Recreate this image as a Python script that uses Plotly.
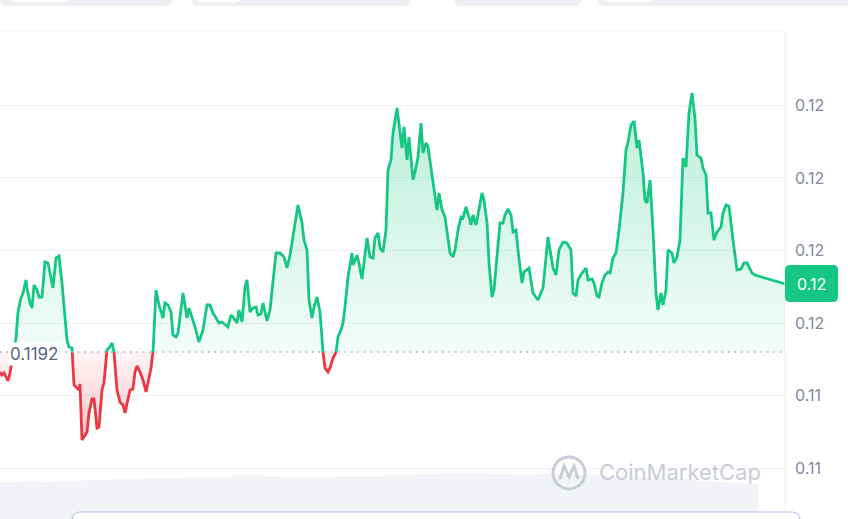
import plotly.graph_objects as go

# ---------------- data ----------------
t = [0, 2, 4, 6, 8, 10, 16, 18, 21, 23, 26, 27, 30, 32, 34, 37, 39, 42, 45, 48,
     51, 53, 56, 59, 62, 65, 67, 69, 72, 74, 76, 79, 80, 82, 84, 87, 89, 92, 94, 97,
     99, 102, 104, 107, 109, 112, 114, 117, 120, 123, 125, 127, 130, 133, 135, 137, 140, 143, 146, 148,
     151, 153, 156, 159, 163, 165, 168, 171, 173, 176, 178, 183, 187, 189, 193, 195, 199, 203, 207, 210,
     213, 217, 219, 222, 225, 228, 231, 233, 237, 239, 242, 245, 247, 250, 253, 256, 258, 261, 263, 267,
     270, 273, 276, 280, 284, 287, 290, 294, 298, 302, 304, 307, 309, 312, 314, 317, 320, 323, 325, 328,
     330, 333, 336, 338, 341, 343, 345, 348, 352, 353, 357, 359, 362, 365, 367, 370, 373, 375, 378, 380,
     383, 386, 388, 391, 393, 397, 399, 402, 404, 407, 409, 413, 415, 418, 421, 423, 426, 428, 432, 434,
     437, 439, 442, 445, 447, 450, 453, 455, 458, 461, 463, 466, 469, 471, 473, 476, 478, 482, 484, 487,
     489, 492, 494, 497, 500, 503, 505, 508, 511, 513, 516, 518, 522, 524, 529, 533, 538, 543, 548, 553,
     556, 559, 563, 567, 571, 573, 576, 578, 582, 586, 588, 592, 594, 597, 599, 602, 605, 608, 610, 613,
     616, 619, 623, 626, 628, 631, 634, 637, 639, 643, 645, 647, 650, 653, 656, 658, 661, 663, 666, 668,
     672, 674, 677, 680, 683, 686, 689, 692, 695, 697, 701, 703, 706, 708, 711, 714, 717, 721, 723, 726,
     729, 733, 737, 741, 744, 747, 752, 755, 785]

price = [0.118648, 0.118566, 0.118621, 0.118483, 0.118400, 0.118621, 0.119586, 0.120303, 0.120690, 0.120828,
         0.121186, 0.120966, 0.120552, 0.120414, 0.121048, 0.120910, 0.120717, 0.120717, 0.121683, 0.121655,
         0.121269, 0.120966, 0.121793, 0.121848, 0.121103, 0.120083, 0.119531, 0.119338, 0.119310, 0.118290,
         0.118234, 0.118152, 0.118317, 0.116772, 0.116855, 0.116993, 0.117517, 0.117903, 0.117903, 0.117103,
         0.117131, 0.118152, 0.118345, 0.119255, 0.119310, 0.119448, 0.119200, 0.118152, 0.117821, 0.117738,
         0.117517, 0.117738, 0.118152, 0.118179, 0.118648, 0.118814, 0.118648, 0.118428, 0.118097, 0.118345,
         0.118759, 0.119200, 0.120910, 0.120497, 0.120138, 0.120552, 0.120497, 0.120303, 0.119669, 0.119614,
         0.119724, 0.120828, 0.120138, 0.120414, 0.120083, 0.119890, 0.119476, 0.119807, 0.120497, 0.120497,
         0.120276, 0.120083, 0.120000, 0.120028, 0.119945, 0.119890, 0.120221, 0.120166, 0.120000, 0.120359,
         0.120028, 0.120993, 0.121186, 0.120303, 0.120414, 0.120441, 0.120221, 0.120248, 0.120552, 0.120055,
         0.120359, 0.121186, 0.121931, 0.121931, 0.121821, 0.121517, 0.121876, 0.122566, 0.123255, 0.122759,
         0.122290, 0.122014, 0.120634, 0.120138, 0.120441, 0.120717, 0.120303, 0.119200, 0.118759, 0.118648,
         0.118759, 0.119034, 0.119172, 0.119614, 0.119807, 0.120000, 0.120441, 0.121269, 0.121931, 0.121600,
         0.121876, 0.121655, 0.121214, 0.121821, 0.122345, 0.121821, 0.121793, 0.122345, 0.122483, 0.122069,
         0.121959, 0.122566, 0.124221, 0.124497, 0.125241, 0.125931, 0.125545, 0.124828, 0.125407, 0.124497,
         0.125131, 0.123945, 0.124166, 0.124579, 0.125517, 0.124690, 0.124966, 0.124855, 0.124083, 0.123669,
         0.123117, 0.123586, 0.123117, 0.122924, 0.122483, 0.121931, 0.121821, 0.122014, 0.122566, 0.122924,
         0.122897, 0.123200, 0.122924, 0.122703, 0.122979, 0.122703, 0.122979, 0.123586, 0.123393, 0.122759,
         0.121655, 0.120717, 0.120910, 0.121821, 0.122759, 0.122759, 0.122979, 0.123145, 0.122979, 0.122510,
         0.122566, 0.122014, 0.121103, 0.121407, 0.121517, 0.120828, 0.120634, 0.120966, 0.122372, 0.121517,
         0.121324, 0.122014, 0.122234, 0.122207, 0.122014, 0.120828, 0.120745, 0.121186, 0.121379, 0.121517,
         0.121186, 0.121214, 0.121103, 0.120745, 0.120717, 0.121103, 0.121324, 0.121407, 0.121379, 0.121793,
         0.121931, 0.122566, 0.123586, 0.124772, 0.124993, 0.125462, 0.125572, 0.124828, 0.125048, 0.124138,
         0.123393, 0.123310, 0.123945, 0.122566, 0.120828, 0.120359, 0.120828, 0.120497, 0.120910, 0.122014,
         0.121931, 0.121655, 0.121821, 0.122290, 0.124552, 0.124303, 0.125793, 0.126345, 0.125655, 0.124634,
         0.124552, 0.124276, 0.124083, 0.123034, 0.123034, 0.122290, 0.122510, 0.122648, 0.123034, 0.123255,
         0.123228, 0.122290, 0.121462, 0.121490, 0.121655, 0.121655, 0.121379, 0.121324, 0.121076]

base_price = 0.1192
base_label = "0.1192"
last_label = "0.12"

tick_vals = [0.116, 0.118, 0.120, 0.122, 0.124, 0.126]
tick_text = ["0.11", "0.11", "0.12", "0.12", "0.12", "0.12"]

vol_t = list(range(0, 751, 15))
volume = [9.25, 9.25, 9.5, 9.25, 9.5, 9.5,
          9.75, 9.75, 10, 10, 10.25,
          10.25, 10.25, 10.5, 10.5, 10.5,
          11, 11, 10.75, 10.5,
          10.5, 10.5, 10.5,
          10.75, 10.75, 10.75, 11, 11,
          11.25, 11.25, 11.5, 11.5, 11.5, 11.25, 11.25,
          11, 11.25, 11.25, 11, 11, 11, 10.75, 10.75,
          10.5, 10.25, 10, 10,
          9.5, 9.25, 9, 8.75]

GREEN = "#16c784"
RED = "#ea3943"
FONT = "Inter"

# ---------------- geometry helpers (pixel -> paper) ----------------
W, H = 848, 519
ML, MR, MT, MB = 0, 63, 31, 0
PW, PH = W - ML - MR, H - MT - MB


def px(x):
    return (x - ML) / PW


def py(y):
    return (H - MB - y) / PH


def rrect(x0, y0, x1, y1, r):
    rx, ry = r / PW, r / PH
    a, b, c, d = px(x0), py(y1), px(x1), py(y0)  # left, bottom, right, top
    return (f"M {a+rx},{d} L {c-rx},{d} Q {c},{d} {c},{d-ry} L {c},{b+ry} "
            f"Q {c},{b} {c-rx},{b} L {a+rx},{b} Q {a},{b} {a},{b+ry} L {a},{d-ry} "
            f"Q {a},{d} {a+rx},{d} Z")


# ---------------- split series at the baseline ----------------
aug_t, aug_p = [], []
for i in range(len(t)):
    aug_t.append(t[i])
    aug_p.append(price[i])
    if i < len(t) - 1:
        a, b = price[i] - base_price, price[i + 1] - base_price
        if a * b < 0:
            frac = a / (a - b)
            aug_t.append(t[i] + frac * (t[i + 1] - t[i]))
            aug_p.append(base_price)

up_fill = [max(p, base_price) for p in aug_p]
dn_fill = [min(p, base_price) for p in aug_p]
up_line = [p if p >= base_price else None for p in aug_p]
dn_line = [p if p <= base_price else None for p in aug_p]

fig = go.Figure()

fig.add_trace(go.Bar(x=vol_t, y=volume, yaxis="y2", width=15,
                     marker=dict(color="rgba(214,219,232,0.30)", line=dict(width=0)),
                     hoverinfo="skip"))

# green area
fig.add_trace(go.Scatter(x=[aug_t[0], aug_t[-1]], y=[base_price, base_price], mode="lines",
                         line=dict(width=0, color="rgba(0,0,0,0)"), hoverinfo="skip"))
fig.add_trace(go.Scatter(x=aug_t, y=up_fill, mode="lines", fill="tonexty",
                         line=dict(width=0, color="rgba(0,0,0,0)"),
                         fillgradient=dict(type="vertical",
                                           colorscale=[[0, "rgba(22,199,132,0.05)"],
                                                       [1, "rgba(22,199,132,0.30)"]],
                                           start=base_price, stop=max(price)),
                         hoverinfo="skip"))
# red area
fig.add_trace(go.Scatter(x=[aug_t[0], aug_t[-1]], y=[base_price, base_price], mode="lines",
                         line=dict(width=0, color="rgba(0,0,0,0)"), hoverinfo="skip"))
fig.add_trace(go.Scatter(x=aug_t, y=dn_fill, mode="lines", fill="tonexty",
                         line=dict(width=0, color="rgba(0,0,0,0)"),
                         fillgradient=dict(type="vertical",
                                           colorscale=[[0, "rgba(234,57,67,0.30)"],
                                                       [1, "rgba(234,57,67,0.05)"]],
                                           start=min(price), stop=base_price),
                         hoverinfo="skip"))

fig.add_trace(go.Scatter(x=aug_t, y=up_line, mode="lines",
                         line=dict(color=GREEN, width=2.8), hoverinfo="skip"))
fig.add_trace(go.Scatter(x=aug_t, y=dn_line, mode="lines",
                         line=dict(color=RED, width=2.8), hoverinfo="skip"))

shapes = []
# top tab strip
for (x0, x1) in [(0, 172), (192, 411), (454, 581), (597, 860)]:
    shapes.append(dict(type="path", xref="paper", yref="paper", path=rrect(x0, -8, x1, 6, 6),
                       fillcolor="#eef0f3", line=dict(width=0), layer="above"))
for (x0, x1) in [(10, 70), (197, 240), (605, 654)]:
    shapes.append(dict(type="path", xref="paper", yref="paper", path=rrect(x0, -8, x1, 2, 4),
                       fillcolor="#ffffff", line=dict(width=0), layer="above"))
# frame lines
shapes.append(dict(type="line", xref="paper", yref="paper", x0=px(0), x1=px(785), y0=py(31), y1=py(31),
                   line=dict(color="#eceef2", width=1)))
shapes.append(dict(type="line", xref="paper", yref="paper", x0=px(785), x1=px(785), y0=py(31), y1=py(519),
                   line=dict(color="#eceef2", width=1)))
# baseline
shapes.append(dict(type="line", xref="paper", yref="y", x0=0, x1=px(783), y0=base_price, y1=base_price,
                   line=dict(color="#a6afbf", width=1.5, dash="1.5px,5px")))
# price badge
shapes.append(dict(type="path", xref="paper", yref="paper", path=rrect(785, 265, 838, 302, 5),
                   fillcolor=GREEN, line=dict(width=0), layer="above"))
# watermark logo
wm = "#c9cdd8"
shapes.append(dict(type="circle", xref="paper", yref="paper", x0=px(553), x1=px(585), y0=py(489), y1=py(457),
                   line=dict(color=wm, width=3)))
shapes.append(dict(type="path", xref="paper", yref="paper",
                   path=f"M {px(560)},{py(479)} L {px(564)},{py(466)} L {px(569)},{py(477)} "
                        f"L {px(574)},{py(466)} L {px(578)},{py(479)}",
                   line=dict(color=wm, width=3)))
# bottom navigator
shapes.append(dict(type="path", xref="paper", yref="paper", path=rrect(72, 512, 800, 535, 9),
                   fillcolor="rgba(255,255,255,0.85)", line=dict(color="rgba(200,208,240,0.9)", width=1.5),
                   layer="above"))

annotations = [
    dict(xref="paper", yref="y", x=px(8), y=base_price, text=base_label, showarrow=False,
         xanchor="left", yanchor="middle", yshift=-2, bgcolor="#ffffff", borderpad=1,
         font=dict(family=FONT, size=17, color="#58667e")),
    dict(xref="paper", yref="paper", x=px(811.5), y=py(283.5), text=last_label, showarrow=False,
         xanchor="center", yanchor="middle", font=dict(family=FONT, size=16, color="#ffffff")),
    dict(xref="paper", yref="paper", x=px(597), y=py(472), text="CoinMarketCap", showarrow=False,
         xanchor="left", yanchor="middle", font=dict(family=FONT, size=22, color=wm)),
]

fig.update_layout(
    width=W, height=H,
    margin=dict(l=ML, r=MR, t=MT, b=MB, pad=0),
    paper_bgcolor="#ffffff", plot_bgcolor="#ffffff",
    showlegend=False, hovermode=False, bargap=0,
    xaxis=dict(range=[0, 785], visible=False, fixedrange=True),
    yaxis=dict(range=[0.114593, 0.128055], side="right", tickvals=tick_vals, ticktext=tick_text,
               showgrid=True, gridcolor="#eff1f4", gridwidth=1, zeroline=False, showline=False,
               ticks="", ticklabelstandoff=9, automargin=False,
               tickfont=dict(family=FONT, size=16, color="#808a9d")),
    yaxis2=dict(range=[0, 122], overlaying="y", visible=False),
    shapes=shapes, annotations=annotations,
)

fig.write_html("out.html", config={"displayModeBar": False},
               post_script="document.body.style.margin='0';document.body.style.padding='0';")
